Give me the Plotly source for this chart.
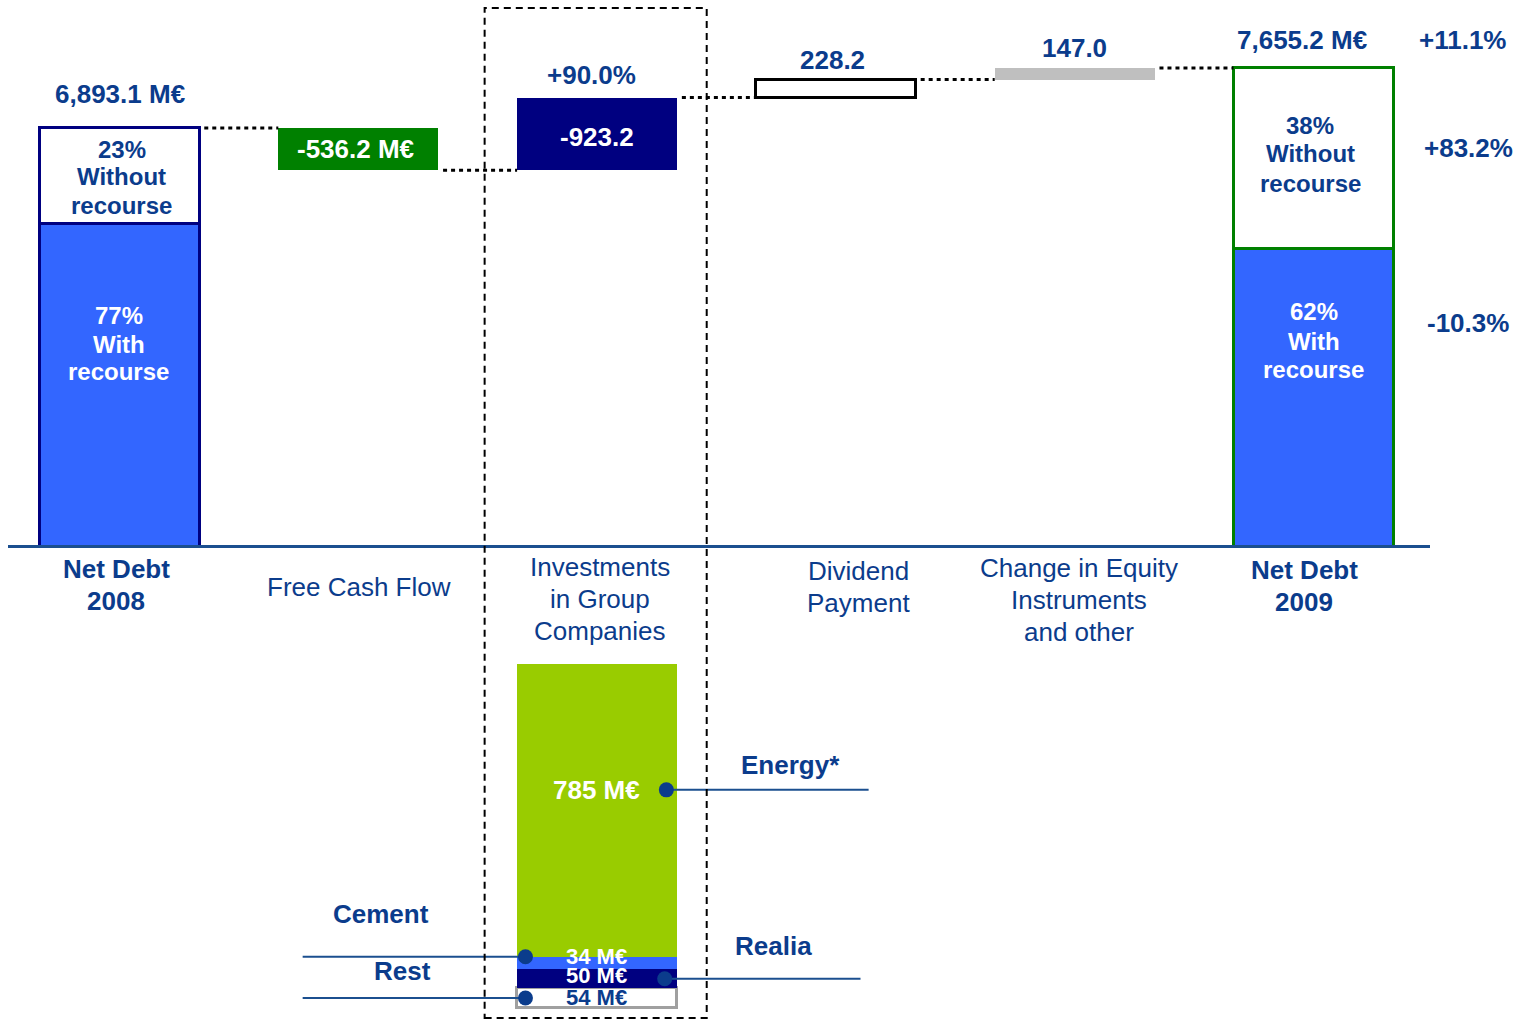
import plotly.graph_objects as go

W, H = 1528, 1019

# ---------------- data ----------------
categories = ["Net Debt|2008", "Free Cash Flow", "Investments|in Group|Companies",
              "Dividend|Payment", "Change in Equity|Instruments|and other", "Net Debt|2009"]
net_debt_2008 = 6893.1
free_cash_flow = -536.2
investments = 923.2
dividend = 228.2
equity_change = 147.0
net_debt_2009 = 7655.2
without_recourse_share_2008 = 0.23
without_recourse_share_2009 = 0.38
investments_change_label = "+90.0%"
right_labels = ["+11.1%", "+83.2%", "-10.3%"]

invest_segments = ["Rest", "Realia", "Cement", "Energy*"]
invest_values = [54, 50, 34, 785]

# ---------------- styles ----------------
NAVY_TXT = "#0B3C8C"
AXIS_COL = "#1B4F8F"
BLUE = "#3366FF"
NAVY = "#000080"
GREEN = "#008000"
LIME = "#99CC00"
GREY = "#BFBFBF"
FONT = "Liberation Sans, Arial, sans-serif"
BW = 0.67          # bar width (category units)
HW = BW / 2


def py(p):  # pixel row -> paper y
    return 1 - p / H


# ---------------- axis scales ----------------
X0_PX, X1_PX = 8, 1430
unit = 238.8
xr0 = -(119.5 - X0_PX) / unit
xr1 = xr0 + (X1_PX - X0_PX) / unit
base_px = 545
ypx = 12.70
yr0 = net_debt_2008 - (base_px - 128) * ypx   # visible floor of the upper axis
yr1 = net_debt_2008 + 128 * ypx

# ---------------- waterfall levels ----------------
lvl_fcf = net_debt_2008 + free_cash_flow
lvl_inv = lvl_fcf + investments
lvl_div = lvl_inv + dividend
# split drawn as a share of the visible bar height (as in the original slide)
with08 = yr0 + (1 - without_recourse_share_2008) * (net_debt_2008 - yr0)
with09 = yr0 + (1 - without_recourse_share_2009) * (net_debt_2009 - yr0)

bar_x = [0, 0, 1, 2, 3, 4, 5, 5]
bar_base = [0, with08, lvl_fcf, lvl_fcf, lvl_inv, lvl_div, 0, with09]
bar_h = [with08, net_debt_2008 - with08, -free_cash_flow, investments, dividend,
         equity_change, with09, net_debt_2009 - with09]
bar_fill = [BLUE, "white", GREEN, NAVY, "white", GREY, BLUE, "white"]
bar_line = [NAVY, NAVY, GREEN, NAVY, "black", GREY, GREEN, GREEN]
bar_lw = [3, 3, 0, 0, 3, 0, 3, 3]

fig = go.Figure()
fig.add_trace(go.Bar(x=bar_x, y=bar_h, base=bar_base, width=BW,
                     marker=dict(color=bar_fill, line=dict(color=bar_line, width=bar_lw)),
                     hoverinfo="skip"))

# dotted connectors
levels = [net_debt_2008, lvl_fcf, lvl_inv, lvl_div, net_debt_2009]
cx, cy = [], []
for i, v in enumerate(levels):
    cx += [i + HW + 0.02, i + 1 - HW, None]
    cy += [v, v, None]
fig.add_trace(go.Scatter(x=cx, y=cy, mode="lines",
                         line=dict(color="black", width=3, dash="4px,4px"),
                         hoverinfo="skip"))

# ---------------- investments breakdown (lower) ----------------
seg_base = []
acc = 0
for v in invest_values:
    seg_base.append(acc)
    acc += v
total_inv = acc
seg_mid = [b + v / 2 for b, v in zip(seg_base, invest_values)]
seg_mid[3] = seg_base[3] + 0.57 * invest_values[3]
seg_fill = ["white", NAVY, BLUE, LIME]
seg_line = ["#A0A0A0", NAVY, BLUE, LIME]
seg_lw = [3, 0, 0, 0]
fig.add_trace(go.Bar(x=[2] * 4, y=invest_values, base=seg_base, width=BW,
                     marker=dict(color=seg_fill, line=dict(color=seg_line, width=seg_lw)),
                     xaxis="x", yaxis="y2", hoverinfo="skip"))

# leader lines + dots (Rest, Realia, Cement, Energy)
dot_dx = [-0.30, 0.283, -0.30, 0.29]
dot_y = [seg_mid[0], seg_mid[1], seg_base[3], seg_mid[3]]
line_end = [-1.233, 1.103, -1.233, 1.137]
lx, ly = [], []
for dx, yv, le in zip(dot_dx, dot_y, line_end):
    lx += [2 + dx, 2 + le, None]
    ly += [yv, yv, None]
fig.add_trace(go.Scatter(x=lx, y=ly, mode="lines", line=dict(color=AXIS_COL, width=2),
                         xaxis="x", yaxis="y2", hoverinfo="skip"))
fig.add_trace(go.Scatter(x=[2 + d for d in dot_dx], y=dot_y, mode="markers",
                         marker=dict(color=NAVY_TXT, size=15), xaxis="x", yaxis="y2",
                         hoverinfo="skip"))

# ---------------- annotations ----------------
ann = []


def A(text, x, y, xref="x", yref="paper", size=26, color=NAVY_TXT, bold=True,
      xshift=0, yshift=0):
    t = f"<b>{text}</b>" if bold else text
    ann.append(dict(text=t, x=x, y=y, xref=xref, yref=yref, showarrow=False,
                    xanchor="center", yanchor="middle", xshift=xshift, yshift=yshift,
                    font=dict(family=FONT, size=size, color=color)))


# category labels
cat_first = [569, 587, 567, 571, 568, 570]
cat_dx = [-3.5, 0.5, 2.5, 23, 4, -9.5]
cat_bold = [True, False, False, False, False, True]
for i, c in enumerate(categories):
    for j, line in enumerate(c.split("|")):
        A(line, i, py(cat_first[i] + 32 * j), size=26, bold=cat_bold[i], xshift=cat_dx[i])

# value labels above / in bars
A(f"{net_debt_2008:,.1f} M€", 0, net_debt_2008, yref="y", yshift=34)
A(f"{free_cash_flow:,.1f} M€", 1, lvl_fcf - free_cash_flow / 2, yref="y", color="white", xshift=-3)
A(investments_change_label, 2, lvl_inv, yref="y", yshift=23, xshift=-6)
A(f"-{investments:,.1f}", 2, lvl_fcf + investments / 2, yref="y", color="white", yshift=-3)
A(f"{dividend:,.1f}", 3, lvl_div, yref="y", yshift=20, xshift=-3)
A(f"{equity_change:,.1f}", 4, net_debt_2009, yref="y", yshift=20)
A(f"{net_debt_2009:,.1f} M€", 5, net_debt_2009, yref="y", yshift=28, xshift=-12)


# recourse split texts
def split_text(i, share, ys, color, dx, with_r):
    words = ["With", "recourse"] if with_r else ["Without", "recourse"]
    lines = [f"{round(share * 100)}%"] + words
    for yv, t in zip(ys, lines):
        A(t, i, py(yv), size=24, color=color, xshift=dx)


split_text(0, without_recourse_share_2008, [149, 177, 205], NAVY_TXT, 2, False)
split_text(0, 1 - without_recourse_share_2008, [315, 344, 372], "white", -1, True)
split_text(5, without_recourse_share_2009, [126, 154, 183], NAVY_TXT, -3.5, False)
split_text(5, 1 - without_recourse_share_2009, [312, 341, 369], "white", 0, True)

# right-side change labels
for t, (px, pyy) in zip(right_labels, [(1462, 40), (1468, 148), (1468, 323)]):
    A(t, px / W, py(pyy), xref="paper", size=26)

# breakdown segment values
seg_txt_col = [NAVY_TXT, "white", "white", "white"]
seg_size = [22, 22, 22, 26]
seg_shift = [1, 3, 7, 0]
for m, v, c, s, sh in zip(seg_mid, invest_values, seg_txt_col, seg_size, seg_shift):
    A(f"{v} M€", 2, m, yref="y2", size=s, color=c, xshift=-1, yshift=sh)

# breakdown names
name_pos = [(402, 27), (773, 33), (381, 43), (790, 25)]
for name, yv, (px, sh) in zip(invest_segments, dot_y, name_pos):
    A(name, px / W, yv, xref="paper", yref="y2", size=26, yshift=sh)

# dashed box around investments column
shapes = [dict(type="rect", xref="x", yref="paper", x0=2 - 0.471, x1=2 + 0.459,
               y0=py(1018), y1=py(8), line=dict(color="black", width=2, dash="7px,5px"),
               fillcolor="rgba(0,0,0,0)", layer="above")]

# ---------------- layout ----------------
fig.update_layout(
    width=W, height=H, margin=dict(l=0, r=0, t=0, b=0),
    paper_bgcolor="white", plot_bgcolor="white", showlegend=False,
    barmode="overlay", bargap=0,
    xaxis=dict(domain=[X0_PX / W, X1_PX / W], range=[xr0, xr1], showgrid=False,
               zeroline=False, showticklabels=False, ticks="", showline=True,
               linecolor=AXIS_COL, linewidth=3, fixedrange=True),
    yaxis=dict(domain=[py(base_px), 1], range=[yr0, yr1], visible=False, fixedrange=True),
    yaxis2=dict(domain=[py(1010), py(664)], range=[-5, total_inv], visible=False,
                anchor="x", fixedrange=True),
    annotations=ann, shapes=shapes,
)

fig.write_html("out.html", config={"displayModeBar": False})
